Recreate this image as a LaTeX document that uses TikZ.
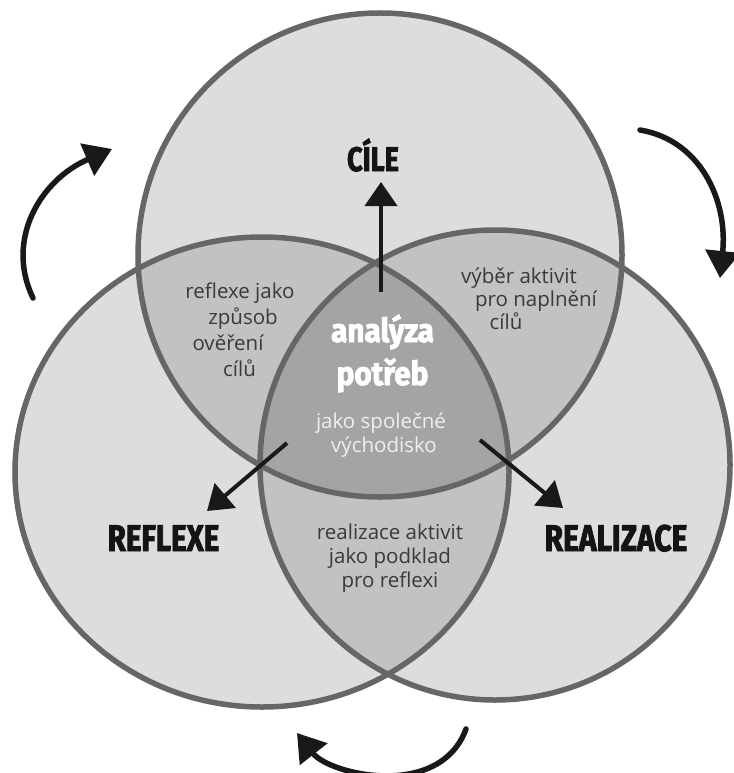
\documentclass[tikz,border=0pt]{standalone}
\usepackage{fontspec}
\setmainfont{Open Sans}
\newfontfamily\heavyfont{Fira Sans}[FakeBold=2.6]
\usetikzlibrary{arrows.meta}
\definecolor{cOne}{HTML}{DEDDDE}
\definecolor{cTwo}{HTML}{C2C1C3}
\definecolor{cThree}{HTML}{A4A3A5}
\definecolor{cLine}{HTML}{666567}
\definecolor{cText}{HTML}{3A393B}
\definecolor{cPale}{HTML}{EFEFEF}
\tikzset{
  circTop/.style={insert path={(380,255) ellipse [x radius=242pt, y radius=242pt]}},
  circLeft/.style={insert path={(262,472) ellipse [x radius=247pt, y radius=235pt]}},
  circRight/.style={insert path={(495,465) ellipse [x radius=235pt, y radius=235pt]}},
  ring/.style={draw=cLine, line width=5.5pt},
  smalltext/.style={text=cText, font=\fontsize{20.5}{24}\selectfont, anchor=base, inner sep=0pt},
  paletext/.style={text=cPale, font=\fontsize{20.5}{24}\selectfont, anchor=base, inner sep=0pt},
  bigword/.style={text=black!92, font=\heavyfont\bfseries\fontsize{37}{37}\selectfont, anchor=base, inner sep=0pt},
  headword/.style={text=white, font=\heavyfont\bfseries\fontsize{33}{33}\selectfont, anchor=base, inner sep=0pt},
  flow/.style={line width=4pt, black!90, -{Triangle[width=32pt,length=24pt]}},
  cyclearrow/.style={line width=5.5pt, black!90, line cap=round, -{Triangle[width=34pt,length=27pt]}}
}
\begin{document}
\begin{tikzpicture}[x=1pt,y=-1pt]
\useasboundingbox[fill=white] (0,0) rectangle (733,773);
% base fills
\fill[cOne, circTop];
\fill[cOne, circLeft];
\fill[cOne, circRight];
% pairwise overlaps
\begin{scope}
  \clip[circTop];
  \fill[cTwo, circLeft];
  \fill[cTwo, circRight];
\end{scope}
\begin{scope}
  \clip[circLeft];
  \fill[cTwo, circRight];
\end{scope}
% triple overlap
\begin{scope}
  \clip[circTop];
  \clip[circLeft];
  \fill[cThree, circRight];
\end{scope}
% outlines
\draw[ring, circTop];
\draw[ring, circLeft];
\draw[ring, circRight];

% main labels
\node[bigword, font=\heavyfont\bfseries\fontsize{34}{34}\selectfont] (cile) at (373,171) {\scalebox{0.8}[1]{CÍLE}};
\node[bigword] (reflexe) at (163.5,551) {\scalebox{0.8}[1]{REFLEXE}};
\node[bigword] (realizace) at (616,551) {\scalebox{0.81}[1]{REALIZACE}};

% centre
\node[headword] (an1) at (382.5,342) {\scalebox{0.9}[1]{analýza}};
\node[headword] (an2) at (382.5,385) {\scalebox{0.9}[1]{potřeb}};
\node[paletext] (sp1) at (381,428) {jako společné};
\node[paletext] (sp2) at (384,452) {východisko};

% top-left overlap
\node[smalltext] (tl1) at (240,298) {reflexe jako};
\node[smalltext] (tl2) at (243,324) {způsob};
\node[smalltext] (tl3) at (228,350) {ověření};
\node[smalltext] (tl4) at (239.5,376) {cílů};

% top-right overlap
\node[smalltext] (tr1) at (519,283) {výběr aktivit};
\node[smalltext] (tr2) at (536,306) {pro naplnění};
\node[smalltext] (tr3) at (506,329) {cílů};

% bottom overlap
\node[smalltext] (bt1) at (390,539) {realizace aktivit};
\node[smalltext] (bt2) at (390,563) {jako podklad};
\node[smalltext] (bt3) at (390,587) {pro reflexi};

% straight arrows from the centre
\coordinate (upS) at (381,292);
\coordinate (upE) at (381,182);
\coordinate (lS) at (287,443);
\coordinate (lE) at (207,511);
\coordinate (rS) at (480,440);
\coordinate (rE) at (563,508);
\draw[flow] (upS) -- (upE);
\draw[flow] (lS) -- (lE);
\draw[flow] (rS) -- (rE);

% cycle arrows
\coordinate (c1s) at (33,298);
\coordinate (c1e) at (112,149);
\coordinate (c2s) at (640,130);
\coordinate (c2e) at (720,278);
\coordinate (c3s) at (466,729);
\coordinate (c3e) at (297,733);
\draw[cyclearrow] (c1s) .. controls (5,240) and (40,180) .. (c1e);
\draw[cyclearrow] (c2s) .. controls (700,140) and (728,200) .. (c2e);
\draw[cyclearrow] (c3s) .. controls (440,800) and (330,775) .. (c3e);
\end{tikzpicture}
\end{document}
